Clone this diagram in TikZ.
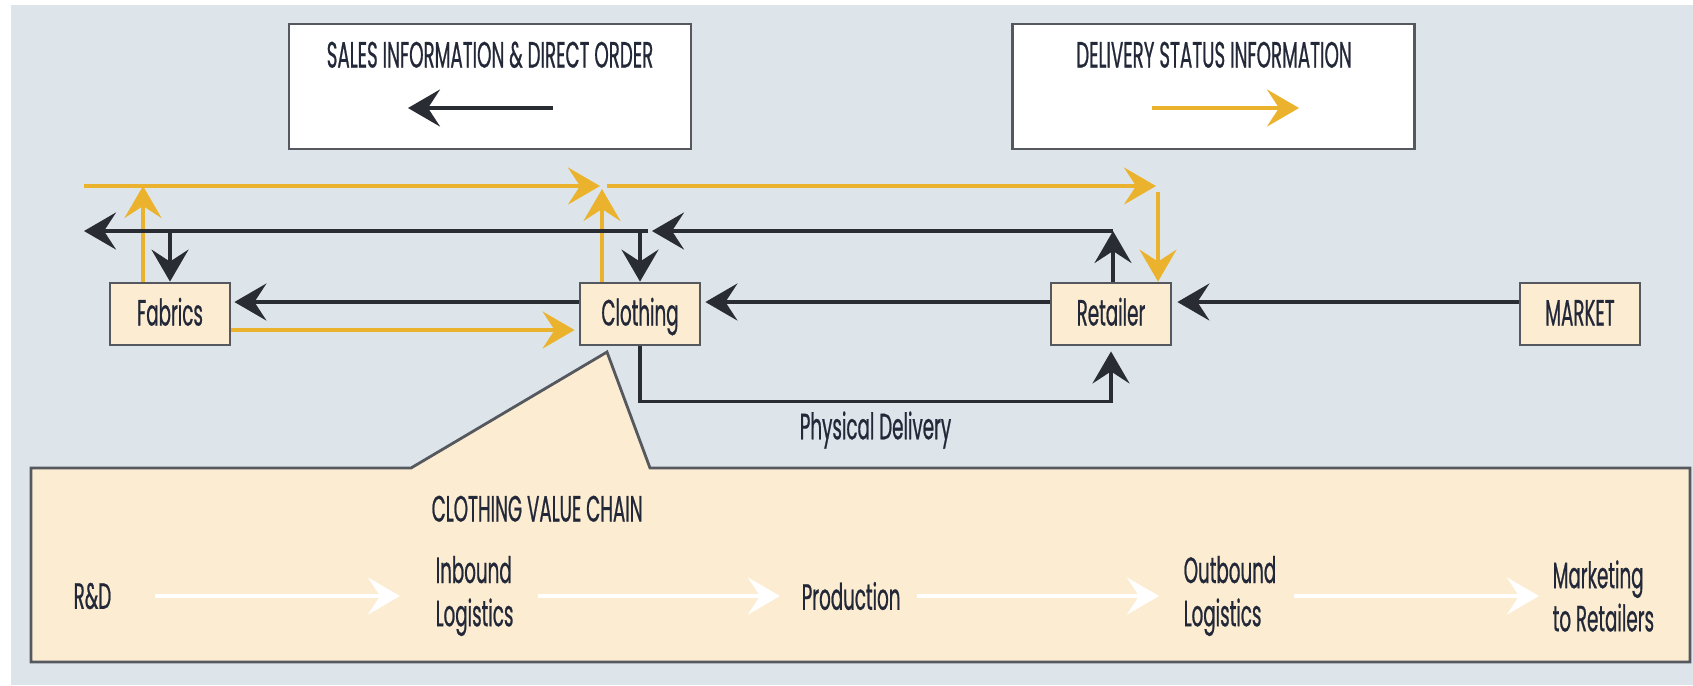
\documentclass[tikz,border=0pt]{standalone}
\usepackage{fontspec}
\setmainfont{Poppins}[FakeStretch=0.5, FakeBold=0.6]
\usetikzlibrary{arrows.meta}

\definecolor{bgblue}{HTML}{DDE5EB}
\definecolor{chainfill}{HTML}{FCEDD2}
\definecolor{flowyellow}{HTML}{EBB22D}
\definecolor{flowblack}{HTML}{2A2C33}
\definecolor{boxline}{HTML}{55585E}
\definecolor{textnavy}{HTML}{232838}

\newcommand{\diagfont}{\fontsize{10.4}{12.3}\selectfont}

\tikzstyle{block} = [rectangle, minimum width=12mm, minimum height=6.2mm, text centered, draw=boxline, line width=0.8pt, fill=chainfill, inner sep=0pt, text height=2.3mm, text depth=0pt]
\tikzstyle{legend_box} = [rectangle, minimum width=40.2mm, minimum height=12.5mm, draw=boxline, line width=0.8pt, fill=white]
\tikzstyle{legend_text} = [inner sep=0pt, text height=2.3mm, text depth=0pt]
\tikzstyle{chain_text} = [inner sep=0pt, anchor=west, align=left]
\tikzstyle{callout} = [draw=boxline, line width=0.8pt, fill=chainfill]
\tikzstyle{black_arrow} = [line width=1.05pt, draw=flowblack, -{Stealth[length=3.2mm, width=3.7mm, inset=1.2mm]}]
\tikzstyle{yellow_arrow} = [line width=1.05pt, draw=flowyellow, -{Stealth[length=3.2mm, width=3.7mm, inset=1.2mm]}]
\tikzstyle{white_arrow} = [line width=1.3pt, draw=white, -{Stealth[length=3.2mm, width=3.7mm, inset=1.2mm]}]

\begin{document}
\begin{tikzpicture}[x=0.1mm, y=-0.1mm, every node/.style={text=textnavy, font=\diagfont}]

    \useasboundingbox (0,0) rectangle (1693,685);
    \fill [bgblue] (11,5) rectangle (1693,685);

    % Draw legend
    \node (salesbox) [legend_box] at (490,86.5) {};
    \node (salestext) [legend_text] at (490,56) {SALES INFORMATION \& DIRECT ORDER};
    \coordinate (salesR) at (553,108);
    \coordinate (salesL) at (408,108);
    \draw [black_arrow] (salesR) -- (salesL);

    \node (deliverybox) [legend_box] at (1213.5,86.5) {};
    \node (deliverytext) [legend_text] at (1214,56) {DELIVERY STATUS INFORMATION};
    \coordinate (deliveryL) at (1152,108);
    \coordinate (deliveryR) at (1299,108);
    \draw [yellow_arrow] (deliveryL) -- (deliveryR);

    % Draw value chain
    \draw [callout] (31,468) -- (411,468) -- (607,352) -- (650,468) -- (1690,468) -- (1690,662) -- (31,662) -- cycle;
    \node (chaintitle) [legend_text, anchor=west] at (431,510) {CLOTHING VALUE CHAIN};
    \node (rd) [chain_text, text width=3.9mm] at (73,596) {R\&D};
    \node (inbound) [chain_text, text width=7.5mm] at (435,596) {Inbound\\Logistics};
    \node (production) [chain_text, text width=9.5mm] at (801,596) {Production};
    \node (outbound) [chain_text, text width=8.8mm] at (1183,596) {Outbound\\Logistics};
    \node (marketing) [chain_text] at (1552,596) {Marketing\\to Retailers};

    \draw [white_arrow, shorten <=4.2mm, shorten >=3.5mm] (rd) -- (inbound);
    \draw [white_arrow, shorten <=2.7mm, shorten >=2.1mm] (inbound) -- (production);
    \draw [white_arrow, shorten <=2mm, shorten >=2.4mm] (production) -- (outbound);
    \draw [white_arrow, shorten <=2.2mm, shorten >=1.3mm] (outbound) -- (marketing);

    % Draw nodes
    \node (fabrics) [block] at (170,314) {Fabrics};
    \node (clothing) [block] at (640,314) {Clothing};
    \node (retailer) [block] at (1111,314) {Retailer};
    \node (market) [block] at (1580,314) {MARKET};

    % Draw delivery status flows
    \coordinate (ystart) at (84,186);
    \coordinate (ytopF) at (143,186);
    \coordinate (ytopC) at (602,186);
    \coordinate (ytopR) at (1158,186);
    \draw [yellow_arrow] (ystart) -- ([xshift=-0.2mm]ytopC);
    \draw [yellow_arrow] (ytopF |- fabrics.north) -- (ytopF);
    \draw [yellow_arrow] (ytopC |- clothing.north) -- ([yshift=-0.3mm]ytopC);
    \draw [yellow_arrow] ([xshift=0.5mm]ytopC) -- ([xshift=-0.2mm]ytopR);
    \draw [yellow_arrow] ([yshift=-0.6mm]ytopR) -- (ytopR |- retailer.north);
    \draw [yellow_arrow, shorten >=0.4mm] ([yshift=-1.6mm]fabrics.east) -- ([yshift=-1.6mm]clothing.west);

    % Draw sales and order flows
    \coordinate (kend) at (84,231);
    \coordinate (kgap) at (648,231);
    \coordinate (kturn) at (1113,231);
    \draw [black_arrow] (kturn |- retailer.north) -- (kturn);
    \draw [black_arrow] (kturn) -- ([xshift=0.4mm]kgap);
    \draw [black_arrow] (kgap) -- (kend);
    \draw [black_arrow] (fabrics.north |- kend) -- (fabrics.north);
    \draw [black_arrow] (clothing.north |- kend) -- (clothing.north);
    \draw [black_arrow, shorten >=0.5mm] ([yshift=1.2mm]market.west) -- ([yshift=1.2mm]retailer.east);
    \draw [black_arrow, shorten >=0.4mm] ([yshift=1.2mm]retailer.west) -- ([yshift=1.2mm]clothing.east);
    \draw [black_arrow, shorten >=0.3mm] ([yshift=1.2mm]clothing.west) -- ([yshift=1.2mm]fabrics.east);
    \draw [black_arrow, shorten >=0.5mm] (clothing.south) -- ++(0,55) -| node[pos=0.25, below=1.3mm, inner sep=0pt, text height=2.3mm, text depth=0pt] {Physical Delivery} (retailer.south);

\end{tikzpicture}
\end{document}
